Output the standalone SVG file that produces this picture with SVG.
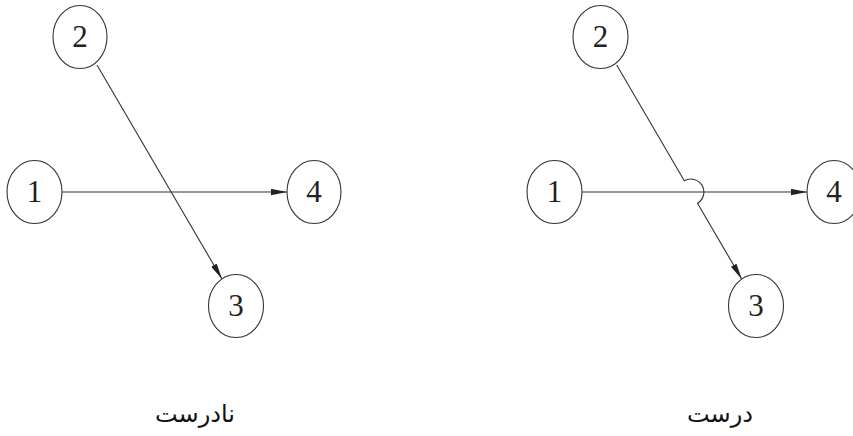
<svg xmlns="http://www.w3.org/2000/svg" width="853" height="436" viewBox="0 0 853 436">
<defs>
<style>
.node ellipse{fill:#fff;stroke:#333;stroke-width:1.1}
.node text{font-family:"Liberation Serif","Times New Roman",serif;font-size:31px;fill:#222;text-anchor:middle}
.edge{fill:none;stroke:#333;stroke-width:1.1}
.label{font-family:"DejaVu Sans","Noto Sans",sans-serif;font-size:24px;fill:#111;text-anchor:middle}
</style>
<marker id="arr" markerUnits="userSpaceOnUse" markerWidth="17" markerHeight="8" refX="16" refY="3.2" orient="auto">
<path d="M0,0 L16,3.2 L0,6.4 z" fill="#222"/>
</marker>
</defs>
<rect width="853" height="436" fill="#fff"/>
<g id="connectors">
<line class="edge" x1="62" y1="192" x2="287" y2="192" marker-end="url(#arr)"/>
<line class="edge" x1="97" y1="65" x2="222" y2="279" marker-end="url(#arr)"/>
<line class="edge" x1="582" y1="192" x2="807" y2="192" marker-end="url(#arr)"/>
<path class="edge" d="M616.7,65 L684.3,180.8 A13,13 0 0 1 697.5,203.2 L741.7,279" marker-end="url(#arr)"/>
</g>
<g id="L-n2" class="node"><ellipse cx="80" cy="37" rx="27" ry="31.5"/><text x="80" y="47">2</text></g>
<g id="L-n1" class="node"><ellipse cx="34.5" cy="192" rx="27.5" ry="31.5"/><text x="34.5" y="202">1</text></g>
<g id="L-n4" class="node"><ellipse cx="314" cy="192" rx="27" ry="31.5"/><text x="314" y="202">4</text></g>
<g id="L-n3" class="node"><ellipse cx="236" cy="306" rx="27.5" ry="31.5"/><text x="236" y="316">3</text></g>
<g id="R-n2" class="node"><ellipse cx="600.5" cy="37" rx="27.5" ry="31.5"/><text x="600.5" y="47">2</text></g>
<g id="R-n1" class="node"><ellipse cx="554.5" cy="192" rx="27.5" ry="31.5"/><text x="554.5" y="202">1</text></g>
<g id="R-n4" class="node"><ellipse cx="834" cy="192" rx="27" ry="31.5"/><text x="834" y="202">4</text></g>
<g id="R-n3" class="node"><ellipse cx="756" cy="306" rx="27.5" ry="31.5"/><text x="756" y="316">3</text></g>
<text class="label" x="195" y="422" direction="rtl">نادرست</text>
<text class="label" x="720" y="422" direction="rtl">درست</text>
</svg>
